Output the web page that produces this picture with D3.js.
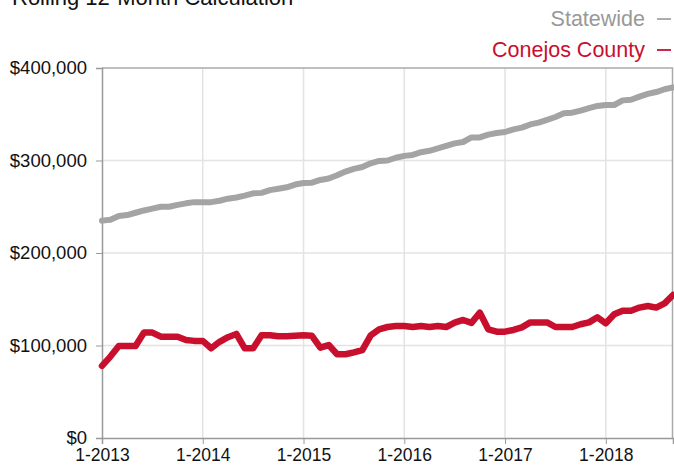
<!DOCTYPE html>
<html>
<head>
<meta charset="utf-8">
<script src="https://cdn.jsdelivr.net/npm/d3@7"></script>
<style>
  body { margin: 0; background: #fff; }
  svg { display: block; font-family: "Liberation Sans", Arial, Helvetica, sans-serif; }
  .grid line { stroke: #e3e3e3; stroke-width: 1.5; }
  .axis text { fill: #111; }
  .axis line, .axis path { stroke: #999; }
</style>
</head>
<body>
<script>
// months since 1-2013 (Jan 2013 .. Sep 2018)
var yearLabels = ["1-2013", "1-2014", "1-2015", "1-2016", "1-2017", "1-2018"]
var yearTicks = [0, 12, 24, 36, 48, 60]
var yTicks = [0, 100000, 200000, 300000, 400000]

// rolling 12-month values, in thousands
var statewide = [235, 236, 240, 241, 243.5, 246, 248, 250, 250, 252, 253.7, 255,
  255, 255, 256.5, 258.7, 260, 262, 264.5, 265, 268, 269.5, 271, 274,
  275.6, 276, 279, 280.5, 284, 288, 291, 293, 297, 299.5, 300, 303,
  305, 306, 309, 310.5, 313, 315.7, 318.5, 320, 325, 325, 328, 329.7,
  330.8, 333.7, 335.5, 339, 341, 344, 347, 351, 351.7, 354, 356.7, 359,
  360, 360, 365, 365.7, 369, 372, 374, 377, 379]
var conejos = [78, 88, 99.5, 99.5, 99.5, 114, 114, 109.5, 109.5, 109.5, 106, 105,
  105, 97, 104, 109, 112.5, 97, 97, 111, 111, 110, 110, 110.6,
  111, 110.5, 97.6, 100.5, 90.5, 90.5, 92.6, 95, 111, 117.5, 120, 121,
  121, 120, 121, 120, 121, 120, 124.7, 127.6, 124.5, 135.5, 117.5, 115,
  115, 116.8, 119.6, 125, 125, 125, 120, 120, 120, 123, 125, 130.5,
  124, 133.7, 137.6, 137.6, 141, 142.7, 141, 145.6, 154.6]

var series = [
  { name: "Statewide", values: statewide, color: "#a4a4a4", text: "#999", width: 6 },
  { name: "Conejos County", values: conejos, color: "#c8102e", text: "#c8102e", width: 6.5 }
]

var width = 674
var height = 468
var margin = { top: 68, right: 1, bottom: 30, left: 102 }

var svg = d3.select("body").append("svg")
  .attr("width", width)
  .attr("height", height)

var x = d3.scaleLinear()
  .domain([0, statewide.length - 1])
  .range([margin.left, width - margin.right])

var y = d3.scaleLinear()
  .domain([0, 400000])
  .range([height - margin.bottom, margin.top])

// grid
svg.append("g").attr("class", "grid")
  .selectAll("line.h").data(yTicks.slice(1, -1)).enter().append("line")
  .attr("x1", margin.left).attr("x2", width - margin.right)
  .attr("y1", function (d) { return y(d) }).attr("y2", function (d) { return y(d) })
svg.select(".grid")
  .selectAll("line.v").data(yearTicks.slice(1)).enter().append("line")
  .attr("y1", margin.top).attr("y2", height - margin.bottom)
  .attr("x1", function (d) { return x(d) }).attr("x2", function (d) { return x(d) })

// frame top/right
svg.append("path")
  .attr("d", "M" + margin.left + "," + margin.top + "H" + (width - margin.right - 0.5) + "V" + (height - margin.bottom))
  .attr("fill", "none").attr("stroke", "#aaa").attr("stroke-width", 1.5)

// axes
var yAxis = svg.append("g").attr("class", "axis")
  .attr("transform", "translate(" + margin.left + ",0)")
  .call(d3.axisLeft(y).tickValues(yTicks).tickSize(6).tickPadding(9)
    .tickFormat(function (d) { return "$" + d3.format(",")(d) }))
yAxis.selectAll("text").style("font-size", "18.5px")

var xAxis = svg.append("g").attr("class", "axis")
  .attr("transform", "translate(0," + (height - margin.bottom) + ")")
  .call(d3.axisBottom(x).tickValues(yearTicks).tickSize(6).tickPadding(5)
    .tickFormat(function (d, i) { return yearLabels[i] }))
xAxis.selectAll("text").style("font-size", "17.5px")
svg.selectAll(".axis .domain").attr("stroke-width", 1.5)

// lines
var line = d3.line()
  .x(function (d, i) { return x(i) })
  .y(function (d) { return y(d * 1000) })

svg.append("g").selectAll("path.series").data(series).enter().append("path")
  .attr("class", "series")
  .attr("d", function (s) { return line(s.values) })
  .attr("fill", "none")
  .attr("stroke", function (s) { return s.color })
  .attr("stroke-width", function (s) { return s.width })
  .attr("stroke-linejoin", "round")
  .attr("stroke-linecap", "round")

// title (cut at the top edge, as in the original)
svg.append("text")
  .attr("x", 12).attr("y", 5)
  .style("font-size", "22px").attr("fill", "#111")
  .text("Rolling 12-Month Calculation")

// legend
var legend = svg.append("g").selectAll("g").data(series).enter().append("g")
  .attr("transform", function (s, i) { return "translate(0," + (26 + i * 31) + ")" })
legend.append("text")
  .attr("x", 645).attr("text-anchor", "end")
  .style("font-size", "21.5px")
  .attr("fill", function (s) { return s.text })
  .text(function (s) { return s.name })
legend.append("line")
  .attr("x1", 657).attr("x2", 671).attr("y1", -7).attr("y2", -7)
  .attr("stroke", function (s) { return s.color }).attr("stroke-width", 1.8)
</script>
</body>
</html>
